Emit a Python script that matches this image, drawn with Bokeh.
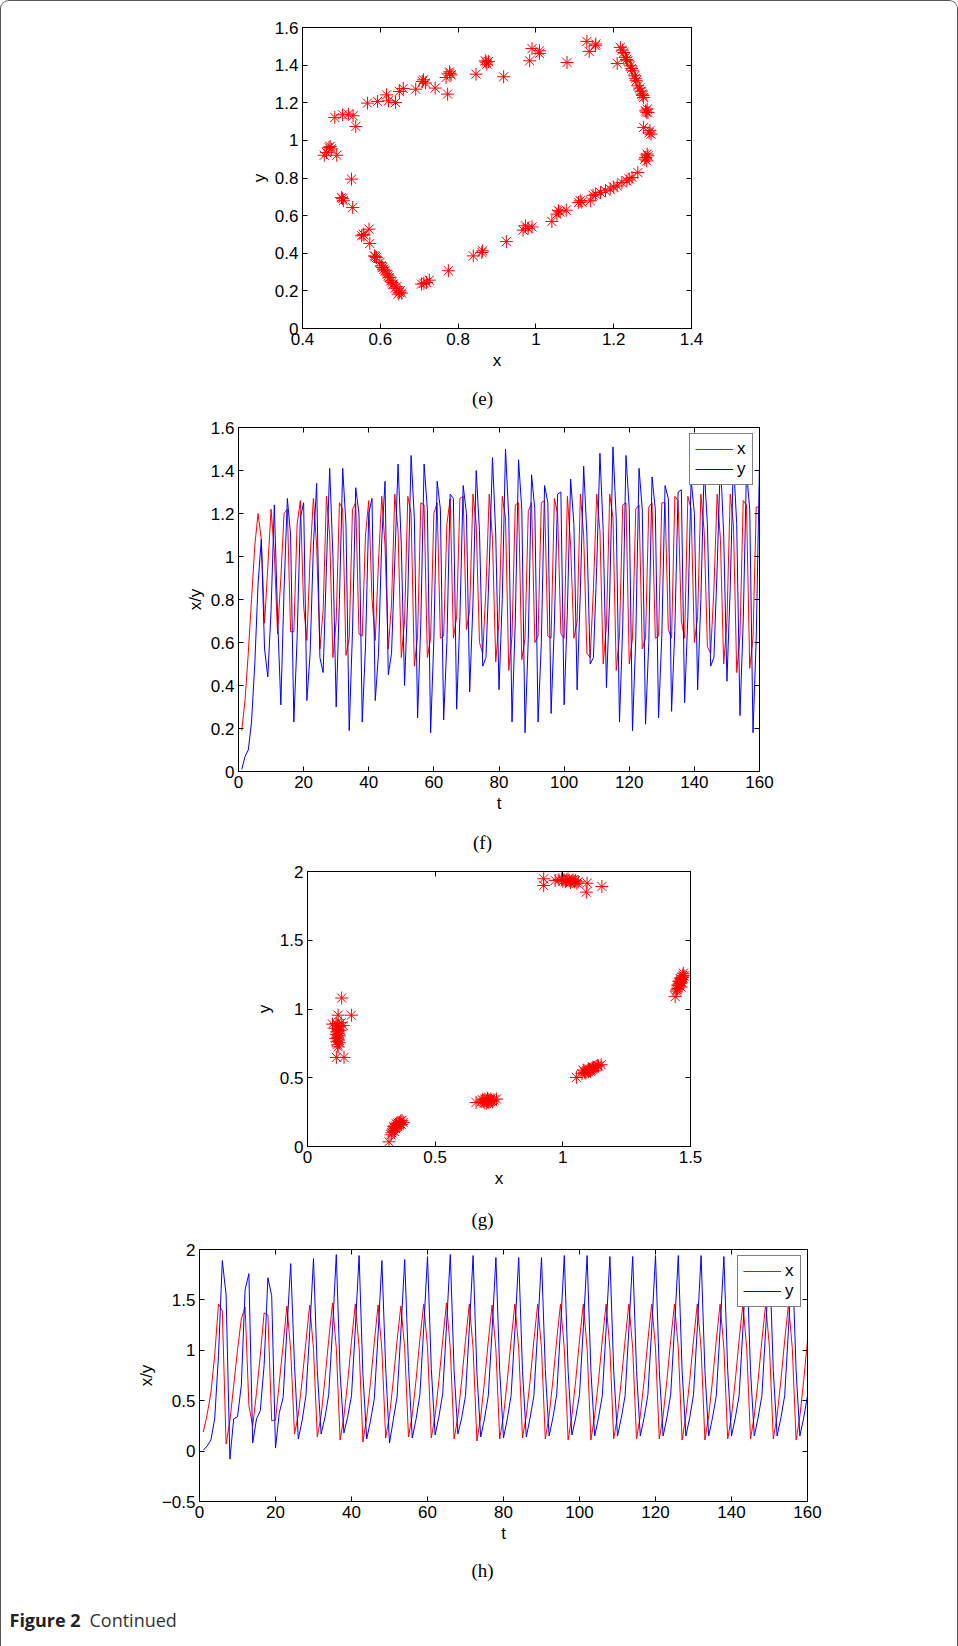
from bokeh.plotting import figure
from bokeh.models import (Range1d, FixedTicker, CustomJSTickFormatter, LinearAxis,
                          Legend, LegendItem)
from bokeh.layouts import column
from bokeh.embed import file_html
from bokeh.resources import INLINE
from bokeh.core.properties import value

# ---------------- data ----------------
# (e) phase portrait: x, y
e_x = [0.456, 0.462, 0.468, 0.474, 0.471, 0.488,
       0.483, 0.503, 0.518, 0.530, 0.537,
       0.567, 0.593, 0.616, 0.621, 0.639, 0.649, 0.659,
       0.691, 0.708, 0.711, 0.716, 0.741, 0.773, 0.769, 0.778, 0.779, 0.782,
       0.846, 0.870, 0.874, 0.878, 0.872, 0.917,
       0.984, 0.990, 1.009, 1.009, 1.080,
       1.131, 1.137, 1.153, 1.154,
       1.209, 1.217, 1.222, 1.226, 1.230, 1.233, 1.236, 1.243, 1.246, 1.249, 1.254, 1.256, 1.258,
       1.262, 1.267, 1.270, 1.273, 1.277, 1.275,
       1.282, 1.286, 1.288, 1.284,
       1.277, 1.293, 1.296, 1.291,
       1.286, 1.282, 1.285, 1.288, 1.280,
       1.262, 1.247, 1.234, 1.240, 1.221, 1.209, 1.200, 1.191, 1.179, 1.166, 1.153, 1.147, 1.140,
       1.114, 1.110, 1.118, 1.078, 1.058, 1.062, 1.054, 1.041,
       0.990, 0.973, 0.967, 0.980, 0.924, 0.863, 0.861, 0.839, 0.775,
       0.726, 0.719, 0.706, 0.712,
       0.655, 0.646, 0.651, 0.649, 0.638, 0.642, 0.633, 0.630, 0.627, 0.623, 0.620, 0.618,
       0.612, 0.609, 0.606, 0.603, 0.599, 0.590, 0.587, 0.585,
       0.573, 0.571, 0.552, 0.556, 0.558,
       0.529, 0.505, 0.500, 0.503, 0.526]
e_y = [0.921, 0.935, 0.962, 0.955, 0.968, 0.921,
       1.122, 1.136, 1.139, 1.131, 1.074,
       1.198, 1.207, 1.242, 1.210, 1.201, 1.260, 1.276,
       1.272, 1.313, 1.322, 1.305, 1.278, 1.246, 1.334, 1.364, 1.356, 1.348,
       1.352, 1.423, 1.405, 1.419, 1.415, 1.338,
       1.423, 1.488, 1.476, 1.462, 1.414,
       1.526, 1.473, 1.503, 1.512,
       1.409, 1.494, 1.480, 1.467, 1.441, 1.430, 1.423, 1.396, 1.382, 1.370, 1.343, 1.330, 1.317,
       1.290, 1.278, 1.262, 1.246, 1.228, 1.238,
       1.157, 1.166, 1.148, 1.150,
       1.069, 1.051, 1.033, 1.040,
       0.927, 0.909, 0.891, 0.918, 0.900,
       0.829, 0.803, 0.785, 0.795, 0.776, 0.758, 0.752, 0.741, 0.732, 0.723, 0.714, 0.708, 0.679,
       0.679, 0.670, 0.672, 0.629, 0.626, 0.620, 0.608, 0.569,
       0.540, 0.546, 0.523, 0.532, 0.462, 0.413, 0.404, 0.386, 0.307,
       0.257, 0.245, 0.236, 0.240,
       0.188, 0.183, 0.200, 0.192, 0.214, 0.222, 0.236, 0.245, 0.253, 0.271, 0.280, 0.289,
       0.307, 0.315, 0.324, 0.333, 0.351, 0.377, 0.382, 0.386,
       0.452, 0.528, 0.493, 0.501, 0.497,
       0.643, 0.679, 0.696, 0.690, 0.794]

# (f) time series
f_t = list(range(1, 161))
f_x = [0.19, 0.33, 0.55, 0.80, 1.05, 1.20, 1.08, 0.69,
       0.95, 1.22, 1.02, 0.64, 0.90, 1.20, 1.22, 0.65,
       0.65, 1.15, 1.26, 0.77, 0.61, 1.00, 1.27, 1.05,
       0.57, 0.75, 1.28, 1.10, 0.53, 0.70, 1.25, 1.22,
       0.54, 0.62, 1.22, 1.25, 0.64, 0.63, 1.10, 1.26,
       0.80, 0.61, 0.98, 1.28, 1.05, 0.57, 0.78, 1.29,
       1.12, 0.53, 0.70, 1.28, 1.20, 0.49, 0.63, 1.25,
       1.24, 0.53, 0.62, 1.20, 1.25, 0.62, 0.63, 1.15,
       1.27, 0.62, 0.72, 1.27, 1.28, 0.66, 0.75, 1.29,
       1.15, 0.60, 0.55, 0.85, 1.29, 1.08, 0.51, 0.70,
       1.28, 1.18, 0.47, 0.63, 1.24, 1.25, 0.52, 0.62,
       1.21, 1.25, 0.60, 0.63, 1.25, 1.26, 0.63, 0.62,
       1.27, 1.20, 0.64, 0.62, 1.28, 1.05, 0.62, 0.70,
       1.29, 1.10, 0.55, 0.53, 0.85, 1.29, 1.12, 0.50,
       0.68, 1.29, 1.18, 0.47, 0.63, 1.24, 1.25, 0.50,
       0.62, 1.22, 1.24, 0.57, 0.62, 1.23, 1.25, 0.62,
       0.63, 1.25, 1.25, 0.66, 0.62, 1.28, 1.26, 0.70,
       0.62, 1.28, 1.22, 0.60, 0.72, 1.29, 1.12, 0.58,
       0.55, 0.85, 1.29, 1.08, 0.50, 0.70, 1.29, 1.15,
       0.46, 0.63, 1.26, 1.24, 0.48, 0.62, 1.23, 1.23]
f_y = [0.01, 0.07, 0.10, 0.23, 0.50, 0.87, 1.08, 0.57,
       0.44, 0.75, 1.24, 0.72, 0.31, 0.85, 1.27, 1.10,
       0.23, 0.62, 1.18, 1.25, 0.33, 0.55, 1.05, 1.34,
       0.53, 0.46, 0.95, 1.41, 1.00, 0.30, 0.80, 1.41,
       1.15, 0.19, 0.65, 1.32, 1.20, 0.23, 0.58, 1.20,
       1.27, 0.33, 0.55, 1.08, 1.35, 0.45, 0.55, 0.98,
       1.43, 1.05, 0.40, 0.82, 1.47, 1.18, 0.25, 0.70,
       1.43, 1.22, 0.18, 0.62, 1.35, 1.22, 0.24, 0.60,
       1.29, 1.27, 0.29, 0.72, 1.33, 1.20, 0.37, 0.78,
       1.40, 1.12, 0.49, 0.53, 0.95, 1.46, 1.10, 0.38,
       0.80, 1.50, 1.18, 0.23, 0.70, 1.45, 1.22, 0.18,
       0.62, 1.38, 1.22, 0.23, 0.60, 1.33, 1.25, 0.27,
       0.68, 1.29, 1.30, 0.31, 0.75, 1.36, 1.15, 0.38,
       0.85, 1.42, 1.10, 0.50, 0.53, 0.95, 1.48, 1.12,
       0.39, 0.82, 1.51, 1.18, 0.23, 0.68, 1.47, 1.22,
       0.19, 0.62, 1.41, 1.22, 0.22, 0.60, 1.37, 1.22,
       0.25, 0.63, 1.33, 1.27, 0.28, 0.66, 1.30, 1.31,
       0.32, 0.72, 1.36, 1.20, 0.38, 0.80, 1.41, 1.15,
       0.49, 0.53, 0.95, 1.45, 1.10, 0.42, 0.85, 1.45,
       1.15, 0.26, 0.70, 1.40, 1.22, 0.18, 0.62, 1.43]

# (g) phase portrait: x, y
g_x = [0.112, 0.118, 0.125, 0.110, 0.120, 0.128, 0.115, 0.122, 0.112, 0.125, 0.118, 0.110, 0.122,
       0.115, 0.125, 0.118, 0.120, 0.140, 0.098, 0.120, 0.134, 0.172, 0.113, 0.143, 0.132,
       0.335, 0.340, 0.345, 0.350, 0.355, 0.360, 0.365, 0.345, 0.352, 0.358, 0.362, 0.340, 0.330,
       0.370, 0.375, 0.348, 0.368, 0.338, 0.319, 0.327,
       0.660, 0.680, 0.690, 0.700, 0.705, 0.710, 0.715, 0.720, 0.695, 0.700, 0.685, 0.725, 0.730,
       0.740, 0.710, 0.705, 0.692, 0.718,
       1.053, 1.075, 1.085, 1.095, 1.100, 1.105, 1.110, 1.115, 1.120, 1.125, 1.130, 1.140, 1.150,
       1.090, 1.100, 1.108, 1.118, 1.135, 1.080,
       1.440, 1.445, 1.450, 1.455, 1.458, 1.460, 1.462, 1.465, 1.468, 1.470, 1.472, 1.455, 1.460,
       1.465, 1.450, 1.475, 1.463, 1.447,
       0.925, 0.925, 0.970, 0.985, 0.995, 1.005, 1.015, 1.025, 1.035, 1.045, 1.055, 1.000, 1.020,
       1.040, 1.050, 1.060, 1.092, 1.095, 1.153, 1.010, 1.030]
g_y = [0.895, 0.880, 0.870, 0.860, 0.850, 0.845, 0.835, 0.825, 0.815, 0.805, 0.795, 0.785, 0.775,
       0.765, 0.755, 0.740, 0.725, 0.880, 0.890, 0.955, 1.080, 0.955, 0.648, 0.648, 0.900,
       0.120, 0.135, 0.150, 0.160, 0.170, 0.175, 0.185, 0.130, 0.145, 0.155, 0.165, 0.110, 0.100,
       0.190, 0.175, 0.165, 0.160, 0.145, 0.034, 0.085,
       0.320, 0.325, 0.330, 0.335, 0.325, 0.340, 0.330, 0.335, 0.345, 0.315, 0.340, 0.325, 0.340,
       0.345, 0.320, 0.350, 0.318, 0.345,
       0.502, 0.530, 0.540, 0.550, 0.545, 0.560, 0.555, 0.565, 0.570, 0.575, 0.580, 0.585, 0.595,
       0.535, 0.565, 0.548, 0.575, 0.590, 0.555,
       1.090, 1.130, 1.150, 1.170, 1.185, 1.195, 1.205, 1.215, 1.230, 1.245, 1.260, 1.200, 1.220,
       1.190, 1.175, 1.240, 1.160, 1.140,
       1.947, 1.898, 1.935, 1.940, 1.945, 1.940, 1.938, 1.935, 1.930, 1.925, 1.915, 1.930, 1.945,
       1.940, 1.935, 1.925, 1.850, 1.915, 1.891, 1.925, 1.920]

# (h) time series
h_t = list(range(1, 161))
h_x = [0.19, 0.36, 0.58, 0.95, 1.46, 1.39, 0.07, 0.30, 0.65, 1.00, 1.31, 1.43,
       0.45, 0.25, 0.58, 0.95, 1.37, 1.35, 0.30, 0.31, 0.68, 1.05, 1.44, 1.00,
       0.17, 0.36, 0.70, 1.08, 1.45, 1.01,
       0.14, 0.35, 0.71, 1.10, 1.47, 1.02,
       0.11, 0.34, 0.69, 1.09, 1.46, 1.03,
       0.09, 0.33, 0.68, 1.08, 1.45, 1.00,
       0.13, 0.35, 0.70, 1.10, 1.44, 1.02,
       0.14, 0.36, 0.71, 1.11, 1.46, 1.03,
       0.13, 0.35, 0.70, 1.10, 1.47, 1.02,
       0.12, 0.34, 0.70, 1.10, 1.46, 1.02,
       0.10, 0.34, 0.69, 1.09, 1.45, 1.01,
       0.12, 0.35, 0.70, 1.10, 1.46, 1.02,
       0.13, 0.35, 0.70, 1.10, 1.46, 1.02,
       0.12, 0.35, 0.70, 1.10, 1.46, 1.02,
       0.11, 0.35, 0.70, 1.10, 1.46, 1.02,
       0.11, 0.35, 0.70, 1.10, 1.46, 1.02,
       0.12, 0.35, 0.70, 1.10, 1.46, 1.02,
       0.12, 0.35, 0.70, 1.10, 1.46, 1.02,
       0.12, 0.35, 0.70, 1.10, 1.46, 1.02,
       0.11, 0.35, 0.70, 1.10, 1.46, 1.02,
       0.11, 0.35, 0.70, 1.10, 1.46, 1.02,
       0.12, 0.35, 0.70, 1.10, 1.46, 1.02,
       0.12, 0.35, 0.70, 1.10, 1.46, 1.02,
       0.12, 0.35, 0.70, 1.10, 1.46, 1.02,
       0.11, 0.35, 0.70, 1.10]
h_y = [0.01, 0.05, 0.11, 0.32, 0.95, 1.89, 1.55, -0.08, 0.32, 0.34, 0.65, 1.60,
       1.76, 0.08, 0.32, 0.40, 0.85, 1.72, 1.54, 0.03, 0.38, 0.53, 1.20, 1.86,
       0.85, 0.12, 0.30, 0.55, 1.18, 1.91,
       0.80, 0.17, 0.33, 0.56, 1.20, 1.95,
       0.78, 0.18, 0.34, 0.55, 1.21, 1.94,
       0.76, 0.12, 0.30, 0.52, 1.16, 1.89,
       0.82, 0.08, 0.31, 0.54, 1.19, 1.90,
       0.84, 0.13, 0.32, 0.56, 1.22, 1.93,
       0.82, 0.16, 0.34, 0.57, 1.24, 1.95,
       0.80, 0.17, 0.33, 0.55, 1.22, 1.94,
       0.78, 0.14, 0.32, 0.55, 1.20, 1.92,
       0.80, 0.13, 0.32, 0.55, 1.20, 1.92,
       0.80, 0.14, 0.33, 0.55, 1.20, 1.92,
       0.81, 0.15, 0.33, 0.56, 1.21, 1.94,
       0.80, 0.16, 0.33, 0.56, 1.22, 1.94,
       0.80, 0.15, 0.33, 0.55, 1.21, 1.93,
       0.80, 0.15, 0.33, 0.55, 1.21, 1.93,
       0.80, 0.15, 0.33, 0.56, 1.21, 1.94,
       0.80, 0.15, 0.33, 0.56, 1.22, 1.94,
       0.80, 0.15, 0.33, 0.56, 1.22, 1.94,
       0.80, 0.15, 0.33, 0.55, 1.21, 1.93,
       0.80, 0.15, 0.33, 0.55, 1.21, 1.93,
       0.80, 0.15, 0.33, 0.55, 1.21, 1.93,
       0.80, 0.15, 0.33, 0.55, 1.21, 1.93,
       0.80, 0.15, 0.33, 0.55]

# ticks and labels
e_xticks = [0.4, 0.6, 0.8, 1.0, 1.2, 1.4]
e_xlabels = ["0.4", "0.6", "0.8", "1", "1.2", "1.4"]
e_yticks = [0.0, 0.2, 0.4, 0.6, 0.8, 1.0, 1.2, 1.4, 1.6]
e_ylabels = ["0", "0.2", "0.4", "0.6", "0.8", "1", "1.2", "1.4", "1.6"]
t_ticks = [0, 20, 40, 60, 80, 100, 120, 140, 160]
t_labels = ["0", "20", "40", "60", "80", "100", "120", "140", "160"]
g_xticks = [0.0, 0.5, 1.0, 1.5]
g_xlabels = ["0", "0.5", "1", "1.5"]
g_yticks = [0.0, 0.5, 1.0, 1.5, 2.0]
g_ylabels = ["0", "0.5", "1", "1.5", "2"]
h_yticks = [-0.5, 0.0, 0.5, 1.0, 1.5, 2.0]
h_ylabels = ["\u22120.5", "0", "0.5", "1", "1.5", "2"]
legend_labels = ["x", "y"]
captions = ["(e)", "(f)", "(g)", "(h)"]
fig_caption = ["Figure 2", "Continued"]

# ---------------- styling / layout ----------------
FIG_W = 956          # page is 958 wide, 1px CSS border each side
FONT = "Liberation Sans"
TICK_SIZE = "17px"
RED = "#FF0000"
BLUE = "#0000FF"
BORDER = "#555555"


def tick_formatter(vals, labs):
    return CustomJSTickFormatter(args=dict(vals=list(vals), labs=list(labs)), code="""
for (let i = 0; i < vals.length; i++) {
  if (Math.abs(vals[i] - tick) < 1e-6) { return labs[i]; }
}
return "";
""")


def style_axis(ax, ticks, formatter, size=TICK_SIZE):
    ax.ticker = FixedTicker(ticks=list(ticks))
    ax.formatter = formatter
    ax.major_tick_in = 5
    ax.major_tick_out = 0
    ax.minor_tick_in = 0
    ax.minor_tick_out = 0
    ax.axis_line_color = "black"
    ax.axis_line_width = 1
    ax.major_tick_line_color = "black"
    ax.major_tick_line_width = 1
    ax.major_label_text_font = FONT
    ax.major_label_text_font_size = size
    ax.major_label_text_color = "black"
    ax.major_label_standoff = 4
    ax.axis_label_text_font = FONT
    ax.axis_label_text_font_size = TICK_SIZE
    ax.axis_label_text_font_style = "normal"
    ax.axis_label_text_color = "black"
    ax.axis_label_standoff = 3


def make_panel(H, L, T, R, B, xr, yr, xticks, xlabels, yticks, ylabels, xname, yname):
    # L, R given as page pixel distances; subtract 1 for the CSS border
    p = figure(width=FIG_W, height=H, x_range=Range1d(*xr), y_range=Range1d(*yr),
               output_backend="svg", toolbar_location=None, frame_align=False,
               min_border_left=L - 1, min_border_right=R - 1,
               min_border_top=T, min_border_bottom=B)
    p.grid.visible = False
    p.outline_line_color = "black"
    p.background_fill_color = "white"
    p.border_fill_color = "white"
    xa = p.below[0]
    ya = p.left[0]
    style_axis(xa, xticks, tick_formatter(xticks, xlabels))
    style_axis(ya, yticks, tick_formatter(yticks, ylabels))
    xa.axis_label = xname
    ya.axis_label = yname
    top = LinearAxis()
    style_axis(top, xticks, CustomJSTickFormatter(code="return '';"), "0px")
    p.add_layout(top, "above")
    right = LinearAxis()
    style_axis(right, yticks, CustomJSTickFormatter(code="return '';"), "0px")
    p.add_layout(right, "right")
    return p


def make_strip(H):
    # text strip: coordinates are page-x (minus border) and local y from the top
    s = figure(width=FIG_W, height=H, x_range=Range1d(0, FIG_W), y_range=Range1d(H, 0),
               output_backend="svg", toolbar_location=None, frame_align=False,
               x_axis_type=None, y_axis_type=None,
               min_border_left=0, min_border_right=0, min_border_top=0, min_border_bottom=0)
    s.grid.visible = False
    s.outline_line_color = None
    s.background_fill_color = "white"
    s.border_fill_color = "white"
    return s


def add_legend(p, r1, r2):
    leg = Legend(items=[LegendItem(label=legend_labels[0], renderers=[r1]),
                        LegendItem(label=legend_labels[1], renderers=[r2])],
                 location="top_right", margin=6, padding=5, spacing=0,
                 glyph_width=38, glyph_height=18, label_height=18, label_width=10,
                 label_standoff=4, border_line_color="black", border_line_width=1,
                 background_fill_color="white", background_fill_alpha=1,
                 label_text_font=FONT, label_text_font_size=TICK_SIZE, label_text_color="black")
    p.add_layout(leg)


def caption(s, text, y):
    s.text(x=[481], y=[y], text=[text], text_align="center", text_baseline="middle",
           text_font=value("Liberation Serif"), text_font_size="19px", text_color="black")


# (e)  page y 1..385
pe = make_panel(384, 302, 26, 267, 57, (0.4, 1.4), (0.0, 1.6),
                e_xticks, e_xlabels, e_yticks, e_ylabels, "x", "y")
pe.scatter(e_x, e_y, marker="asterisk", size=13, line_color=RED, line_width=1)
ce = make_strip(30)        # page 385..415
caption(ce, captions[0], 13)

# (f)  page 415..830
pf = make_panel(415, 238, 12, 199, 59, (0, 160), (0.0, 1.6),
                t_ticks, t_labels, e_yticks, e_ylabels, "t", "x/y")
rfx = pf.line(f_t, f_x, line_color=RED, line_width=1)
rfy = pf.line(f_t, f_y, line_color=BLUE, line_width=1)
add_legend(pf, rfx, rfy)
cf = make_strip(30)        # page 830..860
caption(cf, captions[1], 12)

# (g)  page 860..1205
pg = make_panel(345, 307, 11, 268, 59, (0.0, 1.5), (0.0, 2.0),
                g_xticks, g_xlabels, g_yticks, g_ylabels, "x", "y")
pg.scatter(g_x, g_y, marker="asterisk", size=13, line_color=RED, line_width=1)
cg = make_strip(35)        # page 1205..1240
caption(cg, captions[2], 14)

# (h)  page 1240..1560
ph = make_panel(320, 199, 9, 151, 59, (0, 160), (-0.5, 2.0),
                t_ticks, t_labels, h_yticks, h_ylabels, "t", "x/y")
rhx = ph.line(h_t, h_x, line_color=RED, line_width=1)
rhy = ph.line(h_t, h_y, line_color=BLUE, line_width=1)
add_legend(ph, rhx, rhy)
ch = make_strip(86)        # page 1560..1646
caption(ch, captions[3], 10)
ch.text(x=[8], y=[59], text=[fig_caption[0]], text_align="left", text_baseline="middle",
        text_font=value("Open Sans"), text_font_size="18px", text_font_style="bold",
        text_color="#222222")
ch.text(x=[88], y=[59], text=[fig_caption[1]], text_align="left", text_baseline="middle",
        text_font=value("Open Sans"), text_font_size="18px", text_color="#333333")

layout = column(pe, ce, pf, cf, pg, cg, ph, ch, spacing=0,
                styles={"border-left": "1px solid " + BORDER,
                        "border-right": "1px solid " + BORDER,
                        "border-top": "1px solid " + BORDER,
                        "border-top-left-radius": "9px",
                        "border-top-right-radius": "9px",
                        "overflow": "hidden"})
open("out.html", "w").write(file_html(layout, INLINE))
